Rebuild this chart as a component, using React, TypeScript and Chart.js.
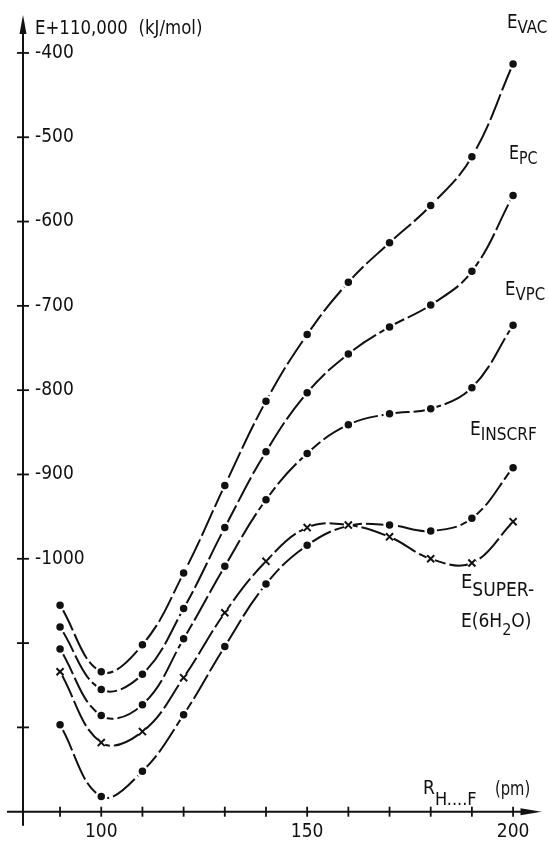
import { useEffect, useRef } from 'react';
import { Chart, registerables } from 'chart.js';

Chart.register(...registerables);

// ---- data ----
const distances = [90, 100, 110, 120, 130, 140, 150, 160, 170, 180, 190, 200];
const eVac = [-1055, -1134, -1102, -1017, -913, -813, -734, -672, -625, -581, -523, -413];
const ePc = [-1081, -1155, -1137, -1059, -963, -873, -803, -757, -725, -699, -659, -569];
const eVpc = [-1107, -1186, -1173, -1095, -1009, -930, -875, -841, -828, -822, -797, -723];
const eInscrf = [-1197, -1282, -1252, -1185, -1104, -1030, -984, -961, -960, -967, -952, -892];
const eSuper = [-1134, -1218, -1205, -1141, -1064, -1003, -963, -960, -974, -1000, -1005, -956];

const xTickValues = [90, 100, 110, 120, 130, 140, 150, 160, 170, 180, 190, 200];
const xTickLabels = ['', '100', '', '', '', '', '150', '', '', '', '', '200'];
const yTickValues = [-1200, -1100, -1000, -900, -800, -700, -600, -500, -400];
const yTickLabels = ['', '', '-1000', '-900', '-800', '-700', '-600', '-500', '-400'];

const X_MIN = 81;
const X_MAX = 206.9;
const Y_MIN = -1300;
const Y_MAX = -355;

const FAMILY = '"DejaVu Sans Condensed", "Liberation Sans Narrow", "DejaVu Sans", sans-serif';
const INK = '#111111';

const toXY = (ys: number[]) => distances.map((x, i) => ({ x, y: ys[i] }));

type Part = [string, number, number];
type TextLabel = { x: number; y: number; k: number; parts: Part[] };

const decorPlugin = {
  id: 'decor',
  beforeDatasetsDraw(chart: any) {
    const { ctx } = chart;
    const xs = chart.scales.x;
    const ys = chart.scales.y;
    const x0 = xs.getPixelForValue(X_MIN);
    const y0 = ys.getPixelForValue(Y_MIN);
    const top = ys.getPixelForValue(Y_MAX);
    const right = xs.getPixelForValue(X_MAX);
    ctx.save();
    ctx.strokeStyle = INK;
    ctx.fillStyle = INK;
    ctx.lineWidth = 2;
    ctx.lineCap = 'butt';
    // y axis
    ctx.beginPath();
    ctx.moveTo(x0, top + 14);
    ctx.lineTo(x0, y0 + 14);
    ctx.stroke();
    ctx.beginPath();
    ctx.moveTo(x0, top);
    ctx.lineTo(x0 - 3.5, top + 19);
    ctx.lineTo(x0 + 3.5, top + 19);
    ctx.closePath();
    ctx.fill();
    // x axis
    ctx.beginPath();
    ctx.moveTo(7, y0);
    ctx.lineTo(right - 14, y0);
    ctx.stroke();
    ctx.beginPath();
    ctx.moveTo(right, y0);
    ctx.lineTo(right - 21, y0 - 3.5);
    ctx.lineTo(right - 21, y0 + 3.5);
    ctx.closePath();
    ctx.fill();
    // tick marks crossing the axes
    ctx.lineWidth = 1.8;
    yTickValues.forEach((v) => {
      const p = ys.getPixelForValue(v);
      ctx.beginPath();
      ctx.moveTo(x0 - 6, p);
      ctx.lineTo(x0 + 6, p);
      ctx.stroke();
    });
    xTickValues.forEach((v) => {
      const p = xs.getPixelForValue(v);
      ctx.beginPath();
      ctx.moveTo(p, y0 - 5);
      ctx.lineTo(p, y0 + 5);
      ctx.stroke();
    });
    ctx.restore();
  },
  afterDraw(chart: any) {
    const { ctx } = chart;
    const labels: TextLabel[] = [
      { x: 35, y: 34, k: 0.97, parts: [['E+110,000  (kJ/mol)', 19, 0]] },
      { x: 507, y: 28, k: 0.93, parts: [['E', 20, 0], ['VAC', 18, 5]] },
      { x: 509, y: 159, k: 0.88, parts: [['E', 20, 0], ['PC', 18, 5]] },
      { x: 505, y: 295, k: 0.92, parts: [['E', 20, 0], ['VPC', 18, 5]] },
      { x: 470, y: 435, k: 0.95, parts: [['E', 20, 0], ['INSCRF', 18, 5]] },
      { x: 461, y: 588, k: 1, parts: [['E', 20, 0], ['SUPER-', 19, 8]] },
      { x: 461, y: 627, k: 1, parts: [['E(6H', 19, 0], ['2', 16, 8], ['O)', 19, 0]] },
      { x: 423, y: 794, k: 1, parts: [['R', 19, 0], ['H....F', 18, 11]] },
      { x: 495, y: 795, k: 0.86, parts: [['(pm)', 19, 0]] },
    ];
    ctx.save();
    ctx.fillStyle = INK;
    ctx.textAlign = 'left';
    ctx.textBaseline = 'alphabetic';
    labels.forEach((l) => {
      ctx.save();
      ctx.translate(l.x, l.y);
      ctx.scale(l.k, 1);
      let x = 0;
      l.parts.forEach(([t, size, dy]) => {
        ctx.font = `${size}px ${FAMILY}`;
        ctx.fillText(t, x, dy);
        x += ctx.measureText(t).width;
      });
      ctx.restore();
    });
    ctx.restore();
  },
};

const lineStyle = {
  borderColor: INK,
  borderWidth: 2,
  borderDash: [28, 4],
  tension: 0.4,
  fill: false,
};

const dotStyle = {
  pointStyle: 'circle',
  pointRadius: 5,
  pointBackgroundColor: INK,
  pointBorderColor: '#ffffff',
  pointBorderWidth: 2.5,
};

export default function App() {
  const ref = useRef<HTMLCanvasElement | null>(null);
  useEffect(() => {
    if (!ref.current) return;
    const inscrfRadius = distances.map((d) => (d === 160 ? 0 : 5));
    const chart = new Chart(ref.current, {
      type: 'line',
      data: {
        datasets: [
          {
            label: 'ESUPER crosses',
            data: toXY(eSuper),
            showLine: false,
            pointStyle: 'crossRot',
            pointRadius: 5,
            pointBorderColor: INK,
            pointBorderWidth: 2,
            pointBackgroundColor: INK,
          },
          {
            label: 'ESUPER halo',
            data: toXY(eSuper),
            showLine: false,
            pointStyle: 'circle',
            pointRadius: 4.5,
            pointBorderWidth: 0,
            pointBackgroundColor: '#ffffff',
            pointBorderColor: '#ffffff',
          },
          { label: 'EVAC', data: toXY(eVac), ...lineStyle, ...dotStyle },
          { label: 'EPC', data: toXY(ePc), ...lineStyle, ...dotStyle },
          { label: 'EVPC', data: toXY(eVpc), ...lineStyle, ...dotStyle },
          { label: 'EINSCRF', data: toXY(eInscrf), ...lineStyle, ...dotStyle, pointRadius: inscrfRadius },
          { label: 'ESUPER', data: toXY(eSuper), ...lineStyle, pointRadius: 0 },
        ] as any,
      },
      options: {
        animation: false,
        responsive: false,
        devicePixelRatio: 1,
        layout: { padding: { top: 15, right: 549 - 541.7, left: 0, bottom: 0 } },
        plugins: { legend: { display: false }, tooltip: { enabled: false } },
        events: [],
        scales: {
          x: {
            type: 'linear',
            min: X_MIN,
            max: X_MAX,
            grid: { display: false, drawTicks: false },
            border: { display: false },
            afterBuildTicks: (s: any) => {
              s.ticks = xTickValues.map((value) => ({ value }));
            },
            afterFit: (s: any) => {
              s.height = 841 - 811.7;
              s.paddingLeft = 0;
              s.paddingRight = 0;
            },
            ticks: {
              autoSkip: false,
              maxRotation: 0,
              padding: 9,
              color: INK,
              font: { family: FAMILY, size: 19 },
              callback: (v: any) => {
                const i = xTickValues.indexOf(Number(v));
                return i >= 0 ? xTickLabels[i] : '';
              },
            },
          },
          y: {
            type: 'linear',
            min: Y_MIN,
            max: Y_MAX,
            grid: { display: false, drawTicks: false },
            border: { display: false },
            afterBuildTicks: (s: any) => {
              s.ticks = yTickValues.map((value) => ({ value }));
            },
            afterFit: (s: any) => {
              s.width = 23;
              s.paddingTop = 0;
              s.paddingBottom = 0;
            },
            ticks: {
              mirror: true,
              padding: 12,
              color: INK,
              font: { family: FAMILY, size: 19 },
              callback: (v: any) => {
                const i = yTickValues.indexOf(Number(v));
                return i >= 0 ? yTickLabels[i] : '';
              },
            },
          },
        },
      },
      plugins: [decorPlugin],
    });
    return () => chart.destroy();
  }, []);
  return (
    <div style={{ position: 'absolute', left: 0, top: 0, width: 549, height: 841, background: '#fff' }}>
      <canvas ref={ref} width={549} height={841} style={{ display: 'block', width: 549, height: 841 }} />
    </div>
  );
}
